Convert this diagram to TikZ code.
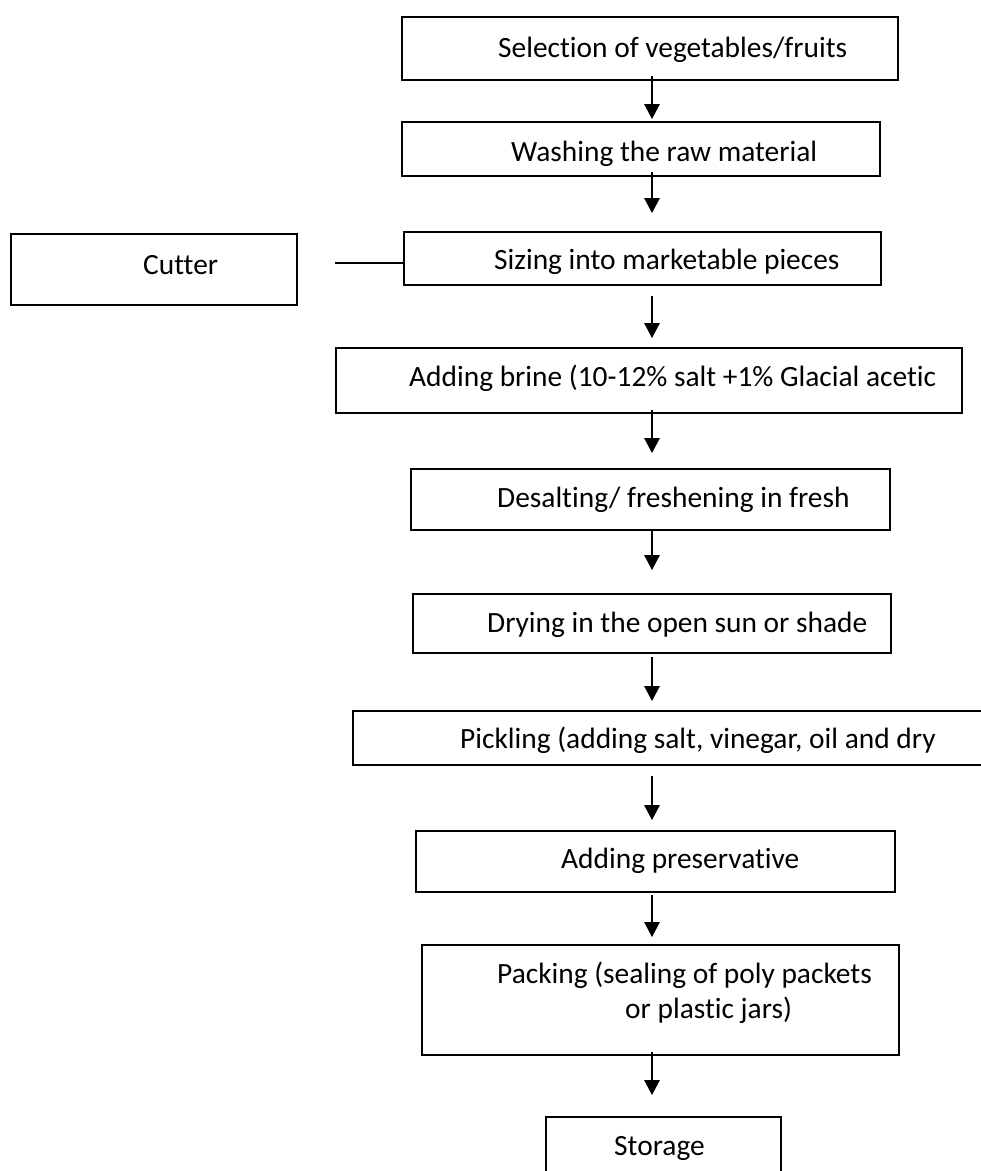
\documentclass[tikz,border=0pt]{standalone}
\usepackage{fontspec}
\setmainfont[Ligatures=NoCommon]{Carlito}
\usetikzlibrary{arrows.meta,calc}
\begin{document}
\begin{tikzpicture}[x=1pt,y=-1pt,
  box/.style={draw=black,line width=1.6pt,rectangle,inner sep=0pt,outer sep=0pt,anchor=north west},
  lbl/.style={anchor=base west,inner sep=0pt,font=\fontsize{29.4}{35}\selectfont},
  arr/.style={line width=1.5pt,-{Triangle[width=15.5pt,length=15pt]}},
  link/.style={line width=1.5pt}]
\useasboundingbox (0,0) rectangle (981,1171);
\clip (0,0) rectangle (981,1171);
\fill[white] (0,0) rectangle (981,1171);
\coordinate (ax) at (652,0);
% boxes
\node[box,minimum width=496pt,minimum height=63pt] (b1) at (402,17) {};
\node[box,minimum width=478pt,minimum height=54pt] (b2) at (402,122) {};
\node[box,minimum width=477pt,minimum height=53pt] (b3) at (404,232) {};
\node[box,minimum width=286pt,minimum height=71pt] (bc) at (11,234) {};
\node[box,minimum width=626pt,minimum height=65pt] (b4) at (336,348) {};
\node[box,minimum width=479pt,minimum height=61pt] (b5) at (411,469) {};
\node[box,minimum width=478pt,minimum height=59pt] (b6) at (413,594) {};
\node[box,minimum width=650pt,minimum height=54pt] (b7) at (353,711) {};
\node[box,minimum width=479pt,minimum height=61pt] (b8) at (416,831) {};
\node[box,minimum width=477pt,minimum height=110pt] (b9) at (422,945) {};
\node[box,minimum width=235pt,minimum height=80pt] (b10) at (546,1117) {};
% texts
\node[lbl] (t1) at (498,57) {Selection of vegetables/fruits};
\node[lbl] (t2) at (511,161) {Washing the raw material};
\node[lbl] (t3) at (494,269) {Sizing into marketable pieces};
\node[lbl] (tc) at (143,274) {Cutter};
\node[lbl] (t4) at (409,386) {Adding brine (10-12\% salt +1\% Glacial acetic};
\node[lbl] (t5) at (497,507) {Desalting/ freshening in fresh};
\node[lbl] (t6) at (487,632) {Drying in the open sun or shade};
\node[lbl] (t7) at (460,748) {Pickling (adding salt, vinegar, oil and dry};
\node[lbl] (t8) at (561,868) {Adding preservative};
\node[lbl] (t9a) at (497,983) {Packing (sealing of poly packets};
\node[lbl] (t9b) at (625,1018) {or plastic jars)};
\node[lbl] (t10) at (614,1155) {Storage};
% connectors
\coordinate (cl) at (335,263);
\draw[link] (cl) -- (cl -| b3.west);
\draw[arr] ([yshift=4pt]b1.south -| ax) -- ([yshift=3pt]b2.north -| ax);
\draw[arr] ([yshift=4pt]b2.south -| ax) -- ([yshift=19pt]b3.north -| ax);
\draw[arr] ([yshift=-11pt]b3.south -| ax) -- ([yshift=10pt]b4.north -| ax);
\draw[arr] ([yshift=3pt]b4.south -| ax) -- ([yshift=16pt]b5.north -| ax);
\draw[arr] ([yshift=0pt]b5.south -| ax) -- ([yshift=24pt]b6.north -| ax);
\draw[arr] ([yshift=-4pt]b6.south -| ax) -- ([yshift=10pt]b7.north -| ax);
\draw[arr] ([yshift=-11pt]b7.south -| ax) -- ([yshift=11pt]b8.north -| ax);
\draw[arr] ([yshift=-3pt]b8.south -| ax) -- ([yshift=8pt]b9.north -| ax);
\draw[arr] ([yshift=3pt]b9.south -| ax) -- ([yshift=22pt]b10.north -| ax);
\end{tikzpicture}
\end{document}
